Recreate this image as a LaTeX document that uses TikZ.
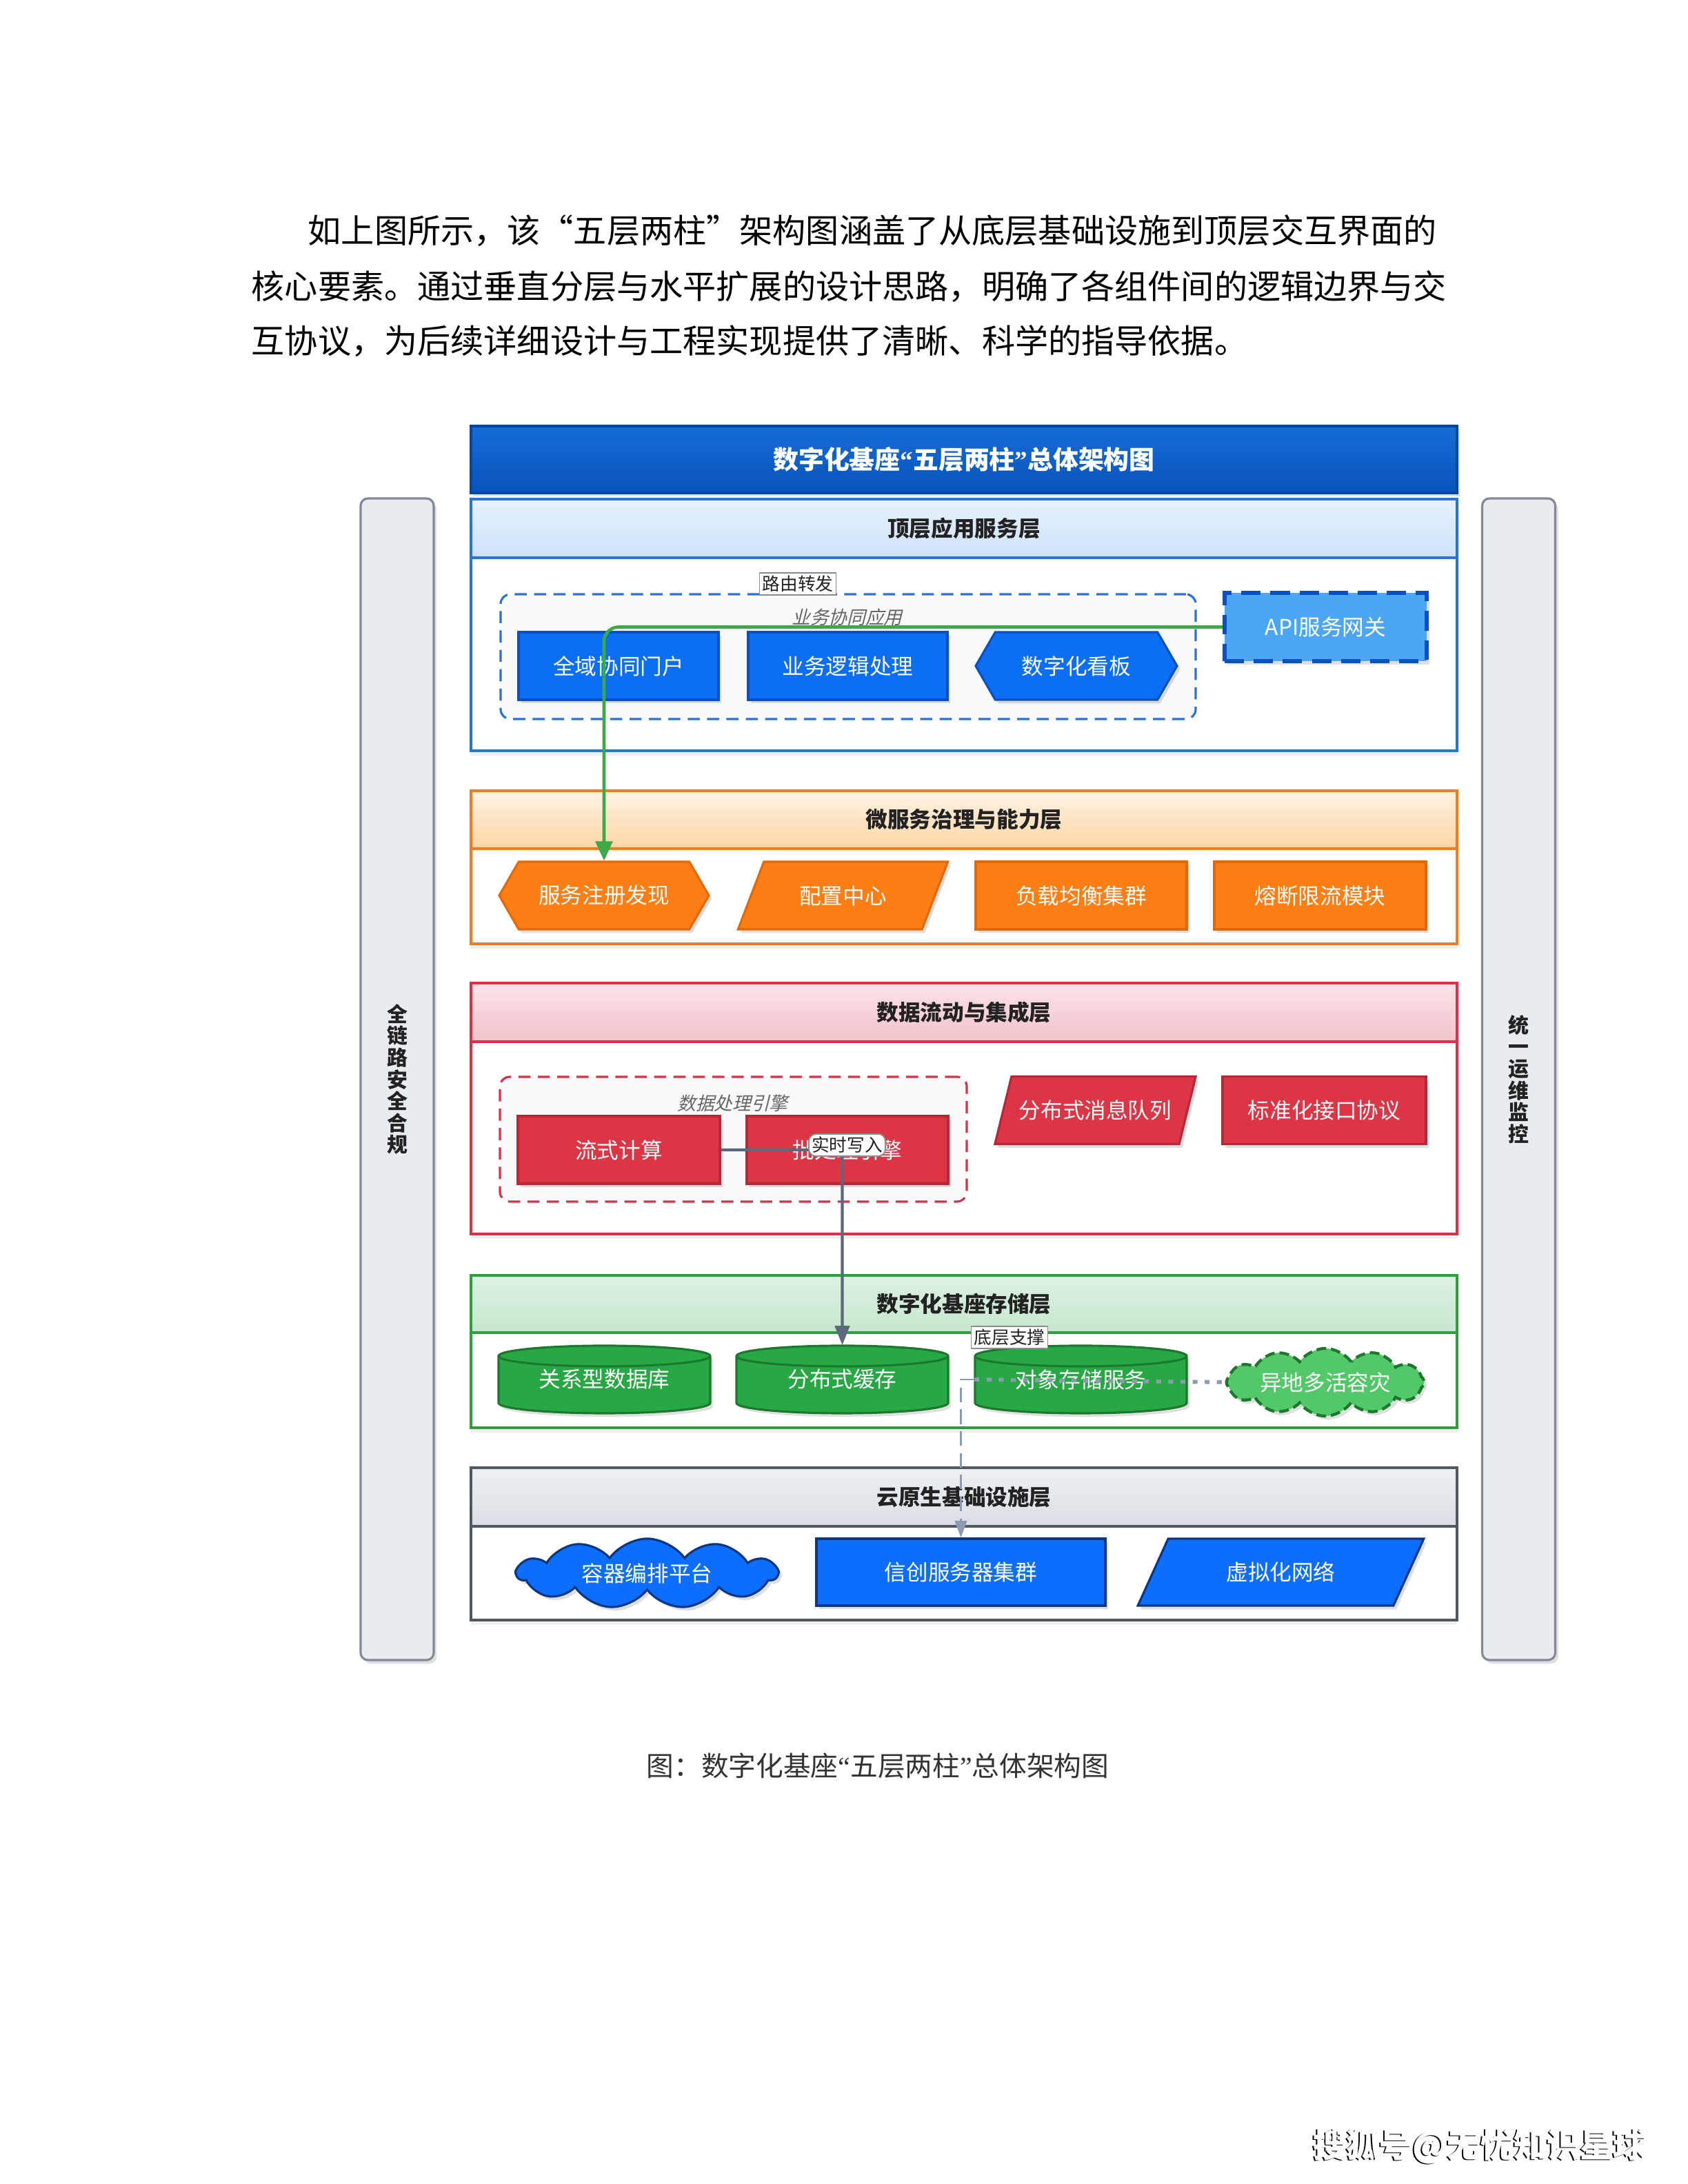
\documentclass[tikz,border=0pt]{standalone}
\usepackage{fontspec}
\setmainfont{Noto Sans CJK SC}
\newfontfamily\quotefont{Liberation Serif}
\newcommand{\qopen}{{\quotefont “}}
\newcommand{\qclose}{{\quotefont ”}}
\usepackage{tikz}
\usetikzlibrary{shapes.geometric,shapes.symbols,arrows.meta,positioning,calc,fit,shadows}
\usepackage{xcolor}
% layer colours
\definecolor{L1line}{RGB}{42,115,217}
\definecolor{L1top}{RGB}{232,242,254}
\definecolor{L1bot}{RGB}{204,226,251}
\definecolor{L2line}{RGB}{247,123,28}
\definecolor{L2top}{RGB}{255,243,228}
\definecolor{L2bot}{RGB}{252,214,165}
\definecolor{L3line}{RGB}{214,51,75}
\definecolor{L3top}{RGB}{251,226,230}
\definecolor{L3bot}{RGB}{242,196,204}
\definecolor{L4line}{RGB}{46,158,64}
\definecolor{L4top}{RGB}{221,241,226}
\definecolor{L4bot}{RGB}{197,231,206}
\definecolor{L5line}{RGB}{80,88,98}
\definecolor{L5top}{RGB}{238,240,243}
\definecolor{L5bot}{RGB}{218,222,228}
% component colours
\definecolor{blfill}{RGB}{11,110,245}
\definecolor{bledge}{RGB}{10,80,190}
\definecolor{orfill}{RGB}{253,126,20}
\definecolor{oredge}{RGB}{225,105,10}
\definecolor{rdfill}{RGB}{220,53,69}
\definecolor{rdedge}{RGB}{180,40,55}
\definecolor{grfill}{RGB}{40,167,69}
\definecolor{gredge}{RGB}{28,120,45}
\definecolor{lgfill}{RGB}{82,200,105}
\definecolor{lgedge}{RGB}{28,120,45}
\definecolor{bkfill}{RGB}{13,110,253}
\definecolor{bkedge}{RGB}{10,55,130}
\definecolor{apifill}{RGB}{77,166,245}
\definecolor{apiedge}{RGB}{10,80,190}
\definecolor{titletop}{RGB}{22,108,215}
\definecolor{titlebot}{RGB}{8,84,188}
\definecolor{titleedge}{RGB}{6,70,160}
\definecolor{pillarfill}{RGB}{232,235,239}
\definecolor{pillaredge}{RGB}{130,138,150}
\definecolor{groupfill}{RGB}{248,249,251}
\definecolor{textdark}{RGB}{34,34,34}
\definecolor{routegreen}{RGB}{60,170,70}
\definecolor{writegray}{RGB}{90,105,125}
\definecolor{supportgray}{RGB}{140,155,175}

\tikzset{
    softshadow/.style={drop shadow={opacity=0.25, shadow xshift=1.2pt, shadow yshift=-1.5pt}},
    layhead/.style={draw=#1line, line width=1pt, top color=#1top, bottom color=#1bot, inner sep=0pt},
    laybody/.style={draw=#1line, line width=0.9pt, fill=white, inner sep=0pt,
        drop shadow={opacity=0.12, shadow xshift=0pt, shadow yshift=-2pt}},
    headtext/.style={font=\fontsize{9}{10.8}\selectfont\bfseries, text=textdark},
    comp/.style={draw=#1edge, fill=#1fill, line width=0.9pt, text=white, softshadow,
        minimum height=0.98cm, inner sep=2pt},
    hexa/.style={signal, signal to=east and west, signal pointer angle=120},
    slant/.style={trapezium, trapezium left angle=62, trapezium right angle=118,
        trapezium stretches=true},
    drum/.style={draw=gredge, fill=grfill, line width=0.9pt},
    cloudy/.style={cloud, cloud puffs=#1, cloud puff arc=110, cloud ignores aspect},
    grp/.style={draw=#1, line width=0.9pt, dash pattern=on 5pt off 3pt,
        rounded corners=4pt, fill=groupfill},
    grplabel/.style={font=\fontsize{7.6}{9}\selectfont, text=black!60, xslant=0.25},
    elabel/.style={draw=black!45, fill=white, inner sep=1.2pt, line width=0.5pt,
        font=\fontsize{7.3}{8.5}\selectfont, text=textdark},
    pillar/.style={draw=pillaredge, line width=0.9pt, fill=pillarfill, rounded corners=3pt,
        softshadow, align=center, font=\fontsize{8.5}{9}\selectfont\bfseries, text=textdark},
    flowgreen/.style={draw=routegreen, line width=1.3pt, rounded corners=6pt,
        -{Triangle[length=8pt,width=7pt]}},
    flowgray/.style={draw=writegray, line width=1.2pt, rounded corners=3pt,
        -{Triangle[length=8pt,width=6pt]}},
    flowdash/.style={draw=supportgray, line width=0.8pt, dash pattern=on 6pt off 3pt,
        -{Triangle[length=7pt,width=5pt]}},
    flowdot/.style={draw=supportgray, line width=1.6pt, dash pattern=on 2pt off 3pt},
    bodytext/.style={anchor=west, inner sep=0pt, font=\fontsize{13.7}{17}\selectfont},
}

\begin{document}
\begin{tikzpicture}[font=\fontsize{9}{10.8}\selectfont]
    % Page
    \fill[white] (0,0) rectangle (24.48,31.68);
    \useasboundingbox (0,0) rectangle (24.48,31.68);

    % Lead paragraph
    \node[bodytext] (p1) at (4.46,28.33) {如上图所示，该“五层两柱”架构图涵盖了从底层基础设施到顶层交互界面的};
    \node[bodytext] (p2) at (3.64,27.52) {核心要素。通过垂直分层与水平扩展的设计思路，明确了各组件间的逻辑边界与交};
    \node[bodytext] (p3) at (3.64,26.73) {互协议，为后续详细设计与工程实现提供了清晰、科学的指导依据。};

    % Title bar
    \node[draw=titleedge, line width=1pt, top color=titletop, bottom color=titlebot,
          minimum width=14.30cm, minimum height=0.97cm, text=white,
          font=\fontsize{10.5}{12}\selectfont\bfseries, softshadow] (title) at (13.98,25.015)
          {数字化基座\qopen 五层两柱\qclose 总体架构图};

    % Pillars
    \node[pillar, minimum width=1.06cm, minimum height=16.85cm] (secpil) at (5.76,16.025)
          {全\\链\\路\\安\\全\\合\\规};
    \node[pillar, minimum width=1.06cm, minimum height=16.85cm] (opspil) at (22.025,16.025)
          {统\\一\\运\\维\\监\\控};

    % Layer bands
    \foreach \n/\yt/\ym/\yb/\name in {L1/24.44/23.59/20.79/顶层应用服务层,
                                      L2/20.21/19.37/17.99/微服务治理与能力层,
                                      L3/17.42/16.57/13.78/数据流动与集成层,
                                      L4/13.18/12.35/10.97/数字化基座存储层,
                                      L5/10.39/9.54/8.18/云原生基础设施层} {
        \node[laybody=\n, fit={(6.83,\ym) (21.13,\yb)}] (\n-body) {};
        \node[layhead=\n, fit={(6.83,\yt) (21.13,\ym)}, label={[headtext]center:\name}] (\n-head) {};
    }

    % Top application layer
    \node[grp=L1line, minimum width=10.08cm, minimum height=1.81cm] (appgrp) at (12.30,22.155) {};
    \node[grplabel] (appgrplbl) at (12.31,22.73) {业务协同应用};
    \node[comp=bl, minimum width=2.90cm] (portal) at (8.97,22.02) {全域协同门户};
    \node[comp=bl, minimum width=2.89cm] (logic) at (12.295,22.02) {业务逻辑处理};
    \node[comp=bl, hexa, minimum width=2.92cm] (board) at (15.61,22.02) {数字化看板};
    \node[draw=apiedge, fill=apifill, line width=1.8pt, dash pattern=on 8pt off 4pt, text=white,
          minimum width=2.93cm, minimum height=0.99cm, softshadow] (api) at (19.225,22.585) {API服务网关};

    % Microservice layer
    \node[comp=or, hexa, minimum width=3.04cm] (srv) at (8.76,18.69) {服务注册发现};
    \node[comp=or, slant, minimum width=3.05cm] (cfg) at (12.225,18.69) {配置中心};
    \node[comp=or, minimum width=3.06cm] (lb) at (15.68,18.69) {负载均衡集群};
    \node[comp=or, minimum width=3.07cm] (fuse) at (19.145,18.69) {熔断限流模块};

    % Data flow layer
    \node[grp=L3line, minimum width=6.77cm, minimum height=1.81cm] (enggrp) at (10.635,15.155) {};
    \node[grplabel] (enggrplbl) at (10.65,15.68) {数据处理引擎};
    \node[comp=rd, minimum width=2.93cm] (stream) at (8.975,15.0) {流式计算};
    \node[comp=rd, minimum width=2.92cm] (batch) at (12.29,15.0) {批处理引擎};
    \node[comp=rd, slant, minimum width=2.93cm] (mq) at (15.885,15.575) {分布式消息队列};
    \node[comp=rd, minimum width=2.95cm] (intf) at (19.205,15.575) {标准化接口协议};

    % Storage layer
    \foreach \c/\x/\t in {rdb/8.765/关系型数据库, cache/12.215/分布式缓存, objstore/15.675/对象存储服务} {
        \path[drum, softshadow] (\x-1.535,12.01) -- ++(0,-0.68)
            arc[start angle=180, end angle=360, x radius=1.535cm, y radius=0.15cm] -- ++(0,0.68)
            arc[start angle=0, end angle=180, x radius=1.535cm, y radius=0.15cm] -- cycle;
        \draw[drum, fill=none] (\x-1.535,12.01)
            arc[start angle=180, end angle=360, x radius=1.535cm, y radius=0.15cm];
        \node[minimum width=3.07cm, minimum height=0.98cm, text=white] (\c) at (\x,11.67) {\t};
    }
    \node[comp=lg, cloudy=12, dash pattern=on 4pt off 2pt, line width=1.2pt,
          minimum width=2.68cm, minimum height=0.84cm] (dr) at (19.22,11.63) {异地多活容灾};

    % Infrastructure layer
    \node[comp=bk, cloudy=11, minimum width=3.77cm, minimum height=0.83cm] (k8s) at (9.385,8.855) {容器编排平台};
    \node[comp=bk, minimum width=4.19cm, minimum height=0.97cm] (xc) at (13.935,8.875) {信创服务器集群};
    \node[comp=bk, slant, minimum width=4.17cm, minimum height=0.97cm] (vnet) at (18.575,8.875) {虚拟化网络};

    % Connectors
    \draw[flowgreen] (api.west) -| (srv.north);
    \node[elabel] (routelbl) at (11.57,23.21) {路由转发};
    \draw[flowgray] (stream.east) -| (cache.north)
        node[pos=0.5, elabel, yshift=2pt, xshift=2pt] (rtlbl) {实时写入};
    \draw[flowdot] (objstore.west) -- (dr.west);
    \draw[flowdash] (objstore.west) -| (xc.north);
    \node[elabel] (baselbl) at (14.64,12.28) {底层支撑};

    % Caption and stamp
    \node[font=\fontsize{11.3}{13}\selectfont, text=black!80] (cap) at (12.73,6.07)
          {图：数字化基座\qopen 五层两柱\qclose 总体架构图};
    \node[font=\fontsize{13.7}{15}\selectfont\bfseries, text=black] (wmback) at (21.44,0.535)
          {搜狐号@无忧知识星球};
    \node[font=\fontsize{13.7}{15}\selectfont\bfseries, text=white] (wm) at (21.46,0.55)
          {搜狐号@无忧知识星球};
\end{tikzpicture}
\end{document}
